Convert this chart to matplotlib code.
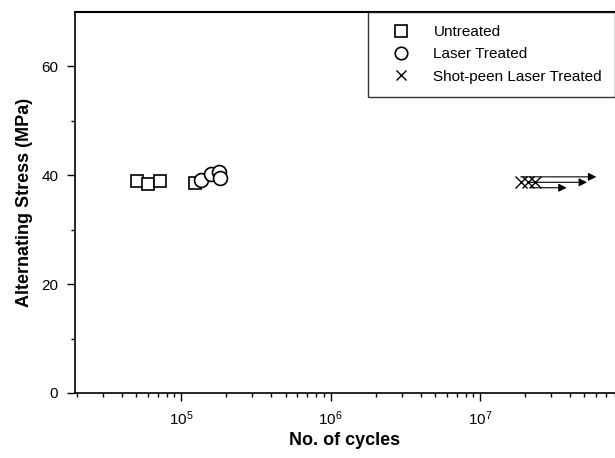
import matplotlib.pyplot as plt

plt.rcParams['font.family'] = ['Liberation Sans', 'DejaVu Sans']

# untreated
untreated_n = [5.1e4, 6.0e4, 7.2e4, 1.24e5]
untreated_s = [38.9, 38.4, 38.9, 38.6]
# laser treated
laser_n = [1.36e5, 1.58e5, 1.79e5, 1.82e5]
laser_s = [39.1, 40.2, 40.5, 39.4]
# shot-peen laser treated (runouts)
shot_n = [1.87e7, 2.09e7, 2.33e7]
shot_s = [38.7, 38.7, 38.7]
arrow_y = [39.7, 38.7, 37.7]
arrow_start = [1.87e7, 2.09e7, 2.2e7]
arrow_end = [6.0e7, 5.2e7, 3.8e7]

fig = plt.figure(figsize=(6.15, 4.58), dpi=100)
ax = fig.add_axes([0.122, 0.142, 0.878, 0.832])

ax.plot(untreated_n, untreated_s, 's', mfc='white', mec='black', ms=9, mew=1.2, ls='none', label='Untreated')
ax.plot(laser_n, laser_s, 'o', mfc='white', mec='black', ms=10, mew=1.2, ls='none', label='Laser Treated')
ax.plot(shot_n, shot_s, 'x', color='black', ms=8, mew=1.0, ls='none', label='Shot-peen Laser Treated')

for y, x0, x1 in zip(arrow_y, arrow_start, arrow_end):
    ax.annotate('', xy=(x1, y), xytext=(x0, y),
                arrowprops=dict(arrowstyle='-|>', color='black', lw=0.8,
                                mutation_scale=12, shrinkA=0, shrinkB=0))

ax.set_xscale('log')
ax.set_xlim(1.95e4, 8.0e7)
ax.set_ylim(0, 70)
ax.set_yticks([0, 20, 40, 60])
ax.set_yticks([10, 30, 50], minor=True)
ax.spines['right'].set_visible(False)
ax.spines['top'].set_linewidth(1.5)
for s in ['left', 'bottom']:
    ax.spines[s].set_linewidth(1.2)
ax.tick_params(which='major', direction='out', length=6, width=1, labelsize=11, pad=6)
ax.tick_params(which='minor', direction='out', length=3, width=1)

ax.set_xlabel('No. of cycles', fontsize=13, fontweight='bold', labelpad=3)
ax.set_ylabel('Alternating Stress (MPa)', fontsize=13, fontweight='bold', labelpad=6)

leg = ax.legend(loc='upper right', fontsize=11, frameon=True, fancybox=False,
                borderaxespad=0, handletextpad=0.9, labelspacing=0.55,
                borderpad=0.85, handlelength=2.5, markerscale=0.9, edgecolor='black')
leg.get_frame().set_linewidth(1.0)

fig.savefig('out.png', dpi=100)
